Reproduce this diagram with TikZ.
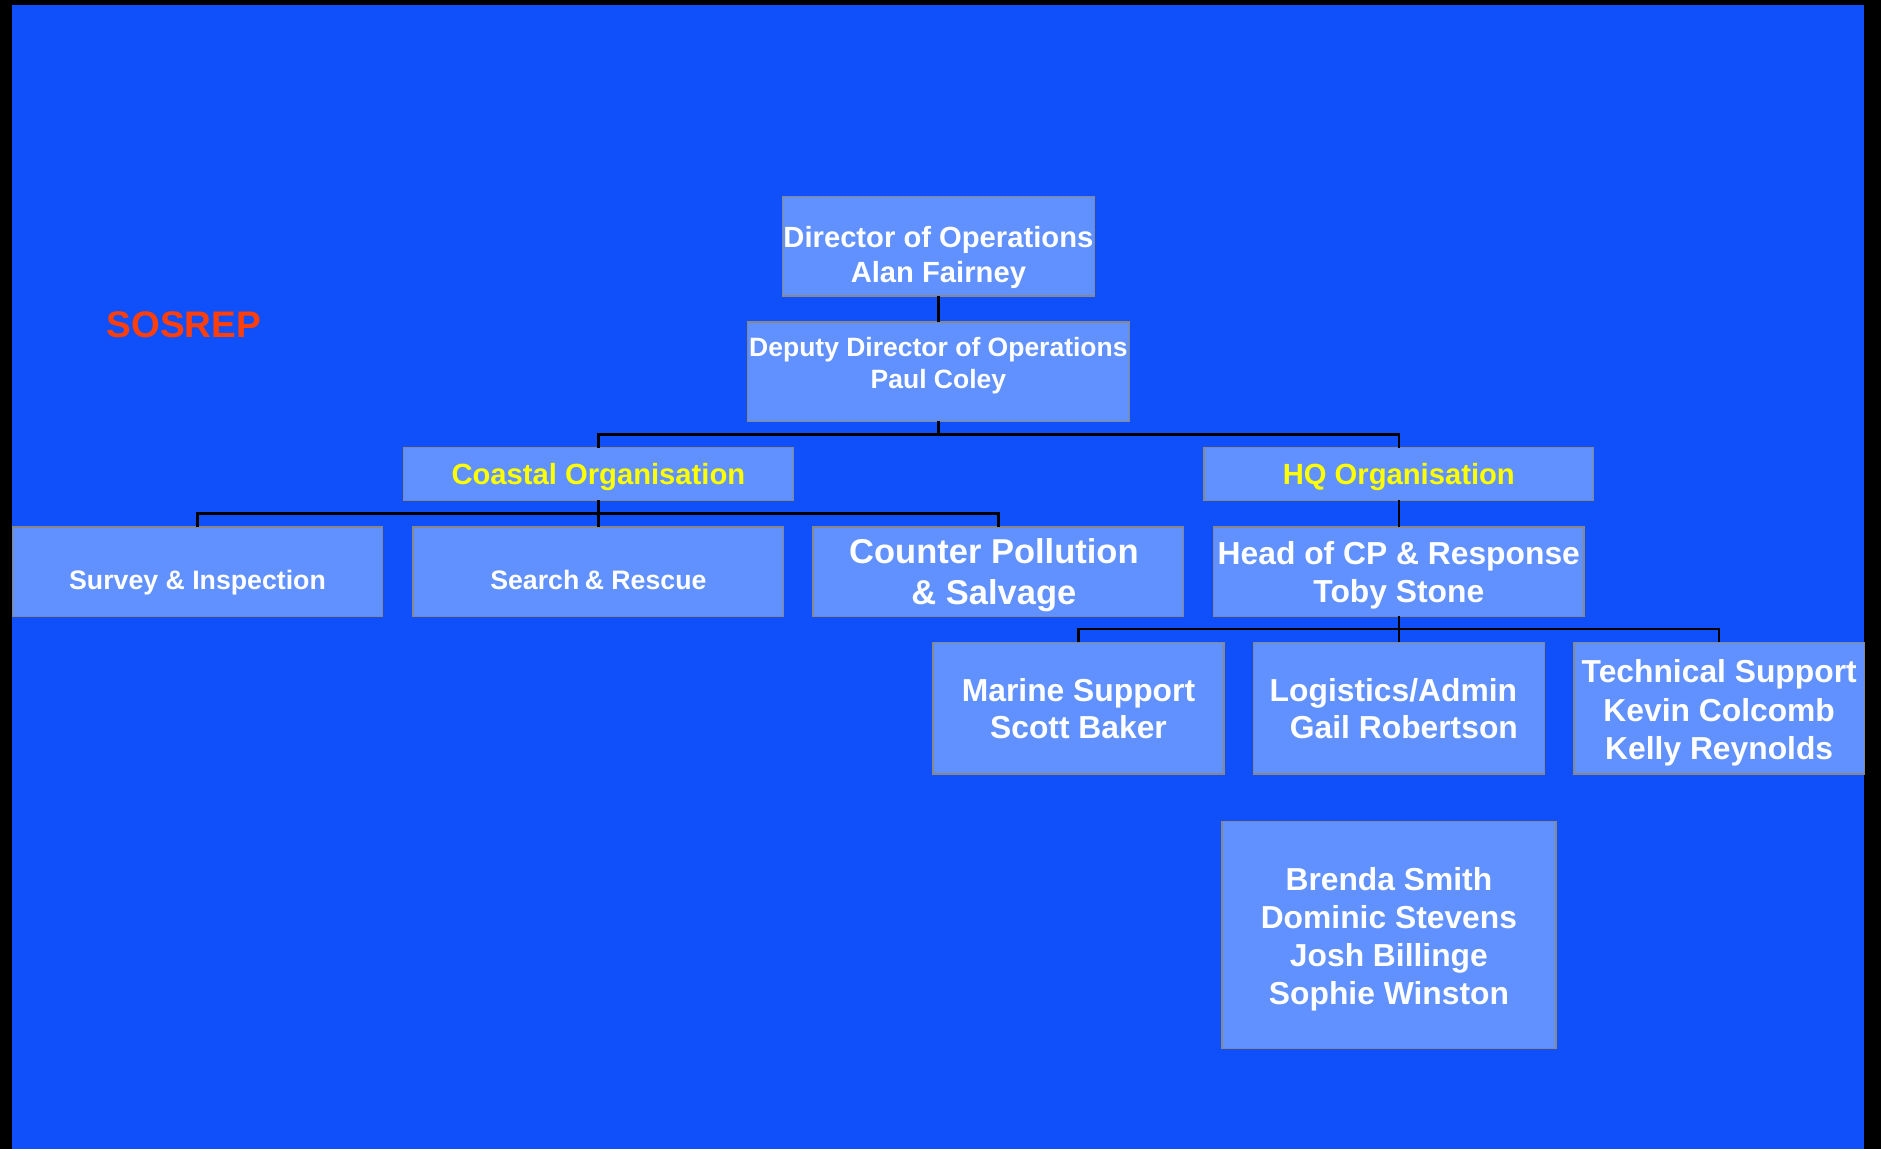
\documentclass[tikz,border=0pt]{standalone}
\usepackage{fontspec}
\setmainfont{Liberation Sans}
\definecolor{bgblue}{RGB}{16,80,250}
\definecolor{boxfill}{RGB}{97,145,254}
\definecolor{boxedge}{RGB}{136,136,136}
\definecolor{sosred}{RGB}{255,62,10}
\definecolor{orgyellow}{RGB}{255,255,0}
\newcommand\orgfs[2]{\fontsize{#1}{#2}\selectfont\bfseries}
\begin{document}
\begin{tikzpicture}[x=1pt,y=-1pt,
  orgbox/.style={draw=boxedge, fill=boxfill, line width=1.5pt, inner sep=0pt, outer sep=0pt},
  boxtxt/.style={text=white, align=center, inner sep=0pt},
  hdtxt/.style={text=orgyellow, align=center, inner sep=0pt},
  link/.style={draw=black, line width=2.5pt}
]
% background frame
\fill[white] (0,0) rectangle (1883,1149);
\fill[black] (0,0) rectangle (1881,1149);
\fill[bgblue] (12,5) rectangle (1864,1149);
\useasboundingbox (0,0) rectangle (1883,1149);

\node[text=sosred, font=\orgfs{37}{44}, anchor=base west, inner sep=0pt] (sosrep) at (106.5,337) {SOSREP};

% level 1-2
\node[orgbox, minimum width=311.8pt, minimum height=99.5pt,
  label={[boxtxt, font=\orgfs{29.2}{34.7}, yshift=-11.5pt]center:{Director of Operations\\Alan Fairney}}]
  (dir) at (938.4,246.2) {};
\node[orgbox, minimum width=381.8pt, minimum height=99.5pt,
  label={[boxtxt, font=\orgfs{26.5}{32}, yshift=5.8pt]center:{Deputy Director of Operations\\Paul Coley}}]
  (dep) at (938.4,371.5) {};

% organisations
\node[orgbox, minimum width=389.8pt, minimum height=52.8pt,
  label={[hdtxt, font=\orgfs{29.2}{35}, yshift=-3pt]center:{Coastal Organisation}}]
  (coast) at (598.4,473.9) {};
\node[orgbox, minimum width=389.8pt, minimum height=52.8pt,
  label={[hdtxt, font=\orgfs{29.2}{35}, yshift=-3pt]center:{HQ Organisation}}]
  (hq) at (1398.8,473.9) {};

% coastal children
\node[orgbox, minimum width=370.4pt, minimum height=89.5pt,
  label={[boxtxt, font=\orgfs{26.7}{32}, yshift=-11pt]center:{Survey \& Inspection}}]
  (survey) at (197.5,571.5) {};
\node[orgbox, minimum width=370.4pt, minimum height=89.5pt,
  label={[boxtxt, font=\orgfs{26.7}{32}, yshift=-8.5pt]center:{Search\hspace{-2pt} \& Rescue}}]
  (search) at (598.4,571.5) {};
\node[orgbox, minimum width=370.4pt, minimum height=89.5pt,
  label={[boxtxt, font=\orgfs{34.5}{41.6}, yshift=-3.5pt, xshift=-4.5pt]center:{Counter Pollution\\\& Salvage}}]
  (counter) at (998.4,571.5) {};

% HQ children
\node[orgbox, minimum width=370.4pt, minimum height=89.5pt,
  label={[boxtxt, font=\orgfs{31.8}{38.3}, yshift=-3.8pt]center:{Head of CP \& Response\\Toby Stone}}]
  (head) at (1398.8,571.5) {};

\node[orgbox, minimum width=290.9pt, minimum height=131.8pt,
  label={[boxtxt, font=\orgfs{31.8}{37.5}, yshift=-0.5pt]center:{Marine Support\\Scott Baker}}]
  (marine) at (1078.5,708.3) {};
\node[orgbox, minimum width=290.9pt, minimum height=131.8pt,
  label={[boxtxt, font=\orgfs{31.8}{37.5}, yshift=-0.5pt, xshift=-5.4pt]center:{Logistics/Admin\\\hspace*{21pt}Gail Robertson}}]
  (logi) at (1398.8,708.3) {};
\node[orgbox, minimum width=290.9pt, minimum height=131.8pt,
  label={[boxtxt, font=\orgfs{31.8}{38.6}, yshift=-4.5pt]center:{Technical Support\\Kevin Colcomb\\Kelly Reynolds}}]
  (tech) at (1719.2,708.3) {};

\node[orgbox, minimum width=334.3pt, minimum height=227.1pt,
  label={[boxtxt, font=\orgfs{31.8}{38.2}, yshift=-4.3pt]center:{Brenda Smith\\Dominic Stevens\\Josh Billinge\\Sophie Winston}}]
  (team) at (1388.9,935) {};

% connectors
\coordinate (bus1) at (938.4,434.3);
\coordinate (bus2) at (598.4,513.3);
\coordinate (bus3) at (1398.8,629);
\draw[link] (dir.south) -- (dep.north);
\draw[link] (dep.south) -- (bus1);
\draw[link] (coast.north) |- (bus1) -| (hq.north);
\draw[link] (coast.south) -- (bus2);
\draw[link] (survey.north) |- (bus2) -| (counter.north);
\draw[link] (bus2) -- (search.north);
\draw[link] (hq.south) -- (head.north);
\draw[link] (head.south) -- (bus3);
\draw[link] (marine.north) |- (bus3) -| (tech.north);
\draw[link] (bus3) -- (logi.north);
\end{tikzpicture}
\end{document}
